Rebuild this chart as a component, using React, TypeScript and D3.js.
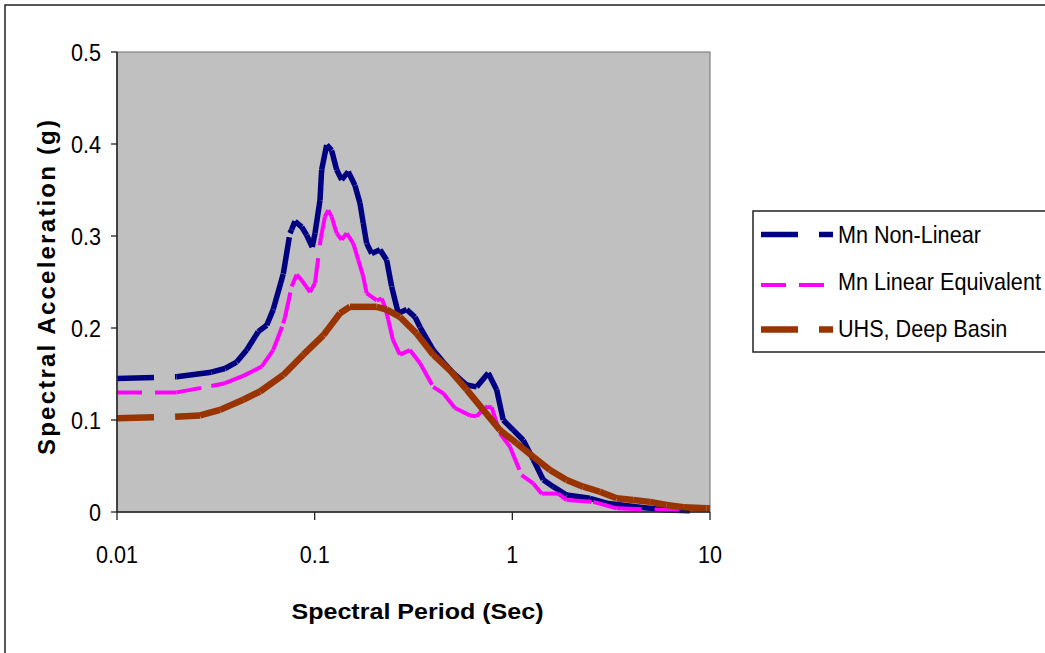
import React from "react";
import * as d3 from "d3";

const nlPeriods = [0.01, 0.02, 0.03, 0.0352, 0.0403, 0.0453, 0.0518, 0.0572, 0.0617, 0.0694, 0.075, 0.0765, 0.0795, 0.086, 0.0911, 0.0972, 0.1004, 0.1064, 0.1085, 0.115, 0.1219, 0.1292, 0.1369, 0.1479, 0.1599, 0.1694, 0.1761, 0.1832, 0.1943, 0.214, 0.2313, 0.2452, 0.2648, 0.292, 0.3217, 0.3409, 0.398, 0.447, 0.5024, 0.5874, 0.6598, 0.7553, 0.8329, 0.8995, 1.011, 1.136, 1.276, 1.433, 1.61, 1.882, 2.47, 3.0, 4.42, 6.03, 7.91];
const nlValues = [0.145, 0.147, 0.152, 0.156, 0.163, 0.176, 0.196, 0.203, 0.22, 0.259, 0.303, 0.307, 0.316, 0.31, 0.301, 0.288, 0.303, 0.339, 0.372, 0.399, 0.393, 0.372, 0.361, 0.37, 0.355, 0.336, 0.314, 0.292, 0.281, 0.285, 0.274, 0.245, 0.216, 0.22, 0.212, 0.201, 0.176, 0.163, 0.151, 0.138, 0.136, 0.151, 0.133, 0.1, 0.089, 0.078, 0.057, 0.035, 0.0275, 0.0185, 0.0149, 0.0095, 0.0051, 0.0022, 0.0014];

const lePeriods = [0.01, 0.02, 0.03, 0.0352, 0.0435, 0.0539, 0.0617, 0.0694, 0.0708, 0.0765, 0.0811, 0.086, 0.0947, 0.1004, 0.1075, 0.1127, 0.1171, 0.1219, 0.1292, 0.1369, 0.1452, 0.1568, 0.1662, 0.1761, 0.1832, 0.2059, 0.2183, 0.2268, 0.2357, 0.2489, 0.2701, 0.3034, 0.3409, 0.398, 0.4473, 0.5125, 0.6102, 0.6598, 0.7268, 0.7859, 0.8655, 0.9725, 1.114, 1.276, 1.407, 1.707, 1.882, 2.566, 3.37, 7.62];
const leValues = [0.13, 0.13, 0.137, 0.14, 0.148, 0.158, 0.176, 0.205, 0.212, 0.245, 0.258, 0.252, 0.239, 0.249, 0.298, 0.321, 0.328, 0.321, 0.303, 0.296, 0.303, 0.292, 0.274, 0.256, 0.238, 0.23, 0.232, 0.223, 0.209, 0.187, 0.171, 0.176, 0.162, 0.136, 0.129, 0.113, 0.105, 0.104, 0.114, 0.114, 0.0855, 0.071, 0.04, 0.031, 0.02, 0.02, 0.013, 0.011, 0.004, 0.0014];

const uhsPeriods = [0.01, 0.0197, 0.0263, 0.0332, 0.0435, 0.0529, 0.0694, 0.0876, 0.1105, 0.1343, 0.1509, 0.2059, 0.2313, 0.2701, 0.328, 0.398, 0.4835, 0.5874, 0.7127, 0.8655, 1.052, 1.276, 1.55, 1.882, 2.284, 2.774, 3.37, 4.088, 4.966, 6.03, 7.32, 9.61, 10];
const uhsValues = [0.102, 0.1036, 0.105, 0.111, 0.122, 0.131, 0.149, 0.171, 0.192, 0.216, 0.223, 0.223, 0.22, 0.212, 0.194, 0.171, 0.154, 0.133, 0.111, 0.089, 0.0747, 0.06, 0.0457, 0.0348, 0.0275, 0.022, 0.0149, 0.013, 0.011, 0.0076, 0.0051, 0.004, 0.004];

const xTicks = [0.01, 0.1, 1, 10];
const xTickLabels = ["0.01", "0.1", "1", "10"];
const yTicks = [0, 0.1, 0.2, 0.3, 0.4, 0.5];
const yTickLabels = ["0", "0.1", "0.2", "0.3", "0.4", "0.5"];

const seriesNames = ["Mn Non-Linear", "Mn Linear Equivalent", "UHS, Deep Basin"];
const seriesColors = ["#000080", "#FF00FF", "#993300"];
const seriesWidths = [5.5, 4, 6.5];
const seriesDash = ["37 21 14 21", "25 13", "37 21 14 21"];

const FONT = "'Liberation Sans', Arial, sans-serif";

function Txt({ x, y, anchor = "start", size = 24, sx = 0.9, weight = "normal", children }: any) {
  return (
    <text
      transform={`translate(${x},${y}) scale(${sx},1)`}
      textAnchor={anchor}
      fontSize={size}
      fontWeight={weight}
      fontFamily={FONT}
      fill="#000"
    >
      {children}
    </text>
  );
}

export default function App() {
  const x = d3.scaleLog().domain([0.01, 10]).range([117, 710]);
  const y = d3.scaleLinear().domain([0, 0.5]).range([512, 52]);

  const series = [
    { p: nlPeriods, v: nlValues },
    { p: lePeriods, v: leValues },
    { p: uhsPeriods, v: uhsValues },
  ];

  const legendY = [234.5, 285, 329.5];
  const legendLen = [72, 63, 72];
  const textBase = [243, 290, 336.5];

  return (
    <svg
      width={1045}
      height={653}
      style={{ position: "absolute", left: 0, top: 0, background: "#fff" }}
    >
      <rect x={5} y={5} width={1100} height={700} fill="#fff" stroke="#222" strokeWidth={1.5} />
      <rect x={117} y={52} width={593} height={460} fill="#C0C0C0" stroke="#808080" strokeWidth={1.2} />
      {series.map((s, si) => (
        <g key={si}>
          {s.p.slice(1).map((pp, i) => (
            <line
              key={i}
              x1={x(s.p[i])}
              y1={y(s.v[i])}
              x2={x(pp)}
              y2={y(s.v[i + 1])}
              stroke={seriesColors[si]}
              strokeWidth={seriesWidths[si]}
              strokeDasharray={seriesDash[si]}
              strokeLinecap="butt"
            />
          ))}
        </g>
      ))}
      <line x1={117} y1={52} x2={117} y2={512} stroke="#222" strokeWidth={1.5} />
      <line x1={117} y1={512} x2={710} y2={512} stroke="#222" strokeWidth={1.5} />
      {yTicks.map((t, i) => (
        <g key={"y" + i}>
          <line x1={111} x2={117} y1={y(t)} y2={y(t)} stroke="#222" strokeWidth={1.3} />
          <Txt x={101} y={y(t) + 9} anchor="end">{yTickLabels[i]}</Txt>
        </g>
      ))}
      {xTicks.map((t, i) => (
        <g key={"x" + i}>
          <line x1={x(t)} x2={x(t)} y1={512} y2={520} stroke="#222" strokeWidth={1.3} />
          <Txt x={x(t)} y={563} anchor="middle">{xTickLabels[i]}</Txt>
        </g>
      ))}
      <text
        x={417.5}
        y={619}
        textAnchor="middle"
        fontSize={22}
        fontWeight="bold"
        fontFamily={FONT}
        textLength={252}
        lengthAdjust="spacingAndGlyphs"
      >
        Spectral Period (Sec)
      </text>
      <text
        transform="translate(55,287.5) rotate(-90)"
        textAnchor="middle"
        fontSize={24}
        fontWeight="bold"
        fontFamily={FONT}
        textLength={335}
        lengthAdjust="spacing"
      >
        Spectral Acceleration (g)
      </text>
      <rect x={753} y={211} width={400} height={141} fill="#fff" stroke="#222" strokeWidth={1.5} />
      {seriesNames.map((n, i) => (
        <g key={"l" + i}>
          <line
            x1={761}
            x2={761 + legendLen[i]}
            y1={legendY[i]}
            y2={legendY[i]}
            stroke={seriesColors[i]}
            strokeWidth={seriesWidths[i]}
            strokeDasharray={seriesDash[i]}
          />
          <Txt x={838} y={textBase[i]}>{n}</Txt>
        </g>
      ))}
    </svg>
  );
}
